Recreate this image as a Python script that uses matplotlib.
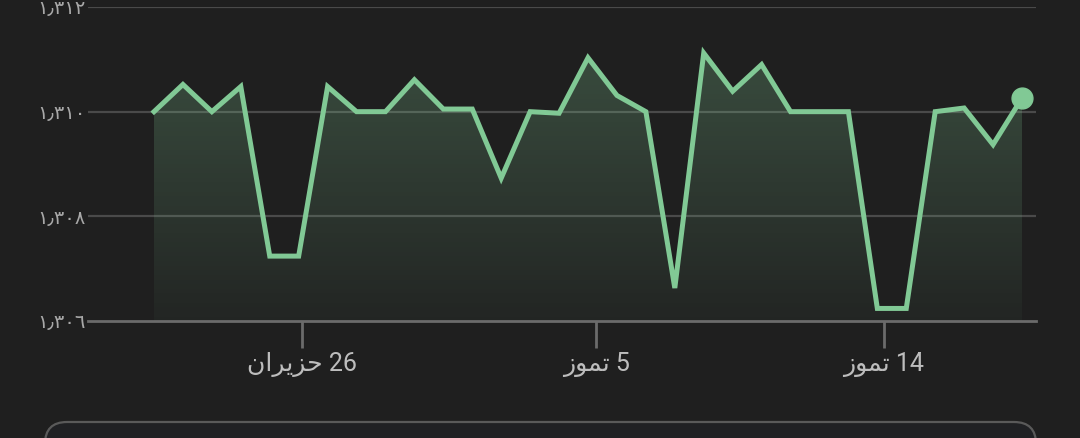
import matplotlib
matplotlib.use("Agg")
import matplotlib.pyplot as plt
import numpy as np
from matplotlib.patches import FancyBboxPatch, Polygon
from matplotlib.colors import LinearSegmentedColormap

# ---- data ----
values = [1.31000, 1.31052, 1.31000, 1.31048, 1.30724, 1.30724, 1.31048, 1.31000,
          1.31000, 1.31061, 1.31005, 1.31005, 1.30873, 1.31000, 1.30997, 1.31103,
          1.31031, 1.31000, 1.30663, 1.31112, 1.31039, 1.31090, 1.31000, 1.31000,
          1.31000, 1.30624, 1.30624, 1.31000, 1.31007, 1.30937, 1.31026]
x_tick_pos = [5.12, 15.28, 25.23]
# visual-order (pre-shaped) Arabic labels: "26 حزيران", "5 تموز", "14 تموز"
x_tick_labels = ["\uFEE5\uFE8D\uFEAE\uFEF3\uFEB0\uFEA3 26",
                 "\uFEAF\uFEEE\uFEE4\uFE97 5",
                 "\uFEAF\uFEEE\uFEE4\uFE97 14"]
y_ticks = [1.306, 1.308, 1.310, 1.312]
y_tick_labels = ["\u0661\u066B\u0663\u0660\u0666", "\u0661\u066B\u0663\u0660\u0668",
                 "\u0661\u066B\u0663\u0661\u0660", "\u0661\u066B\u0663\u0661\u0662"]

BG = "#1f1f1f"
GREEN = "#81c995"
GRID = "#4a4a4a"
BASE = "#6b6b6b"
TXT = "#bdbdbd"

W, H = 1080, 438
fig = plt.figure(figsize=(W / 100, H / 100), dpi=100, facecolor=BG)

# overlay for the card at the bottom (pixel coordinates)
ov = fig.add_axes([0, 0, 1, 1], zorder=0)
ov.set_xlim(0, W)
ov.set_ylim(H, 0)
ov.axis("off")
ov.add_patch(FancyBboxPatch((45, 422), 1036 - 45, 80,
                            boxstyle="round,pad=0,rounding_size=22",
                            facecolor="#202124", edgecolor="#5a5a5a", lw=1.6))

ax = fig.add_axes([88 / W, (H - 321) / H, (1036 - 88) / W, (321 - 7) / H], zorder=1)
ax.set_facecolor("none")

x = np.arange(len(values))
ymin, ymax = 1.306, 1.312
ax.set_ylim(ymin, ymax)
step = (1022 - 154) / (len(values) - 1)
ax.set_xlim(-(154 - 88) / step, (len(values) - 1) + (1036 - 1022) / step)

# gridlines
for yv in y_ticks[1:]:
    ax.axhline(yv, color=GRID, lw=1.6, zorder=1)
ax.axhline(ymin, color=BASE, lw=2, zorder=4, clip_on=False)

# gradient fill under the line
grad = np.linspace(0, 1, 256).reshape(-1, 1)
cmap = LinearSegmentedColormap.from_list("g", [(0.506, 0.788, 0.584, 0.04),
                                                 (0.506, 0.788, 0.584, 0.27)])
im = ax.imshow(grad, extent=[x[0], x[-1], ymin, 1.3112], origin="lower",
               cmap=cmap, aspect="auto", zorder=2)
verts = [(x[0], ymin)] + list(zip(x, values)) + [(x[-1], ymin)]
poly = Polygon(verts, closed=True, facecolor="none", edgecolor="none")
ax.add_patch(poly)
im.set_clip_path(poly)

ax.plot(x, values, color=GREEN, lw=3.6, zorder=5, solid_joinstyle="miter",
        clip_on=False)
ax.plot([x[-1]], [values[-1]], "o", color=GREEN, ms=15, zorder=6, clip_on=False)

for s in ax.spines.values():
    s.set_visible(False)
ax.set_yticks(y_ticks)
ax.set_yticklabels(y_tick_labels, family=["DejaVu Sans"], fontsize=14, color="#a8a8a8")
ax.tick_params(axis="y", length=0, pad=2)
ax.set_xticks(x_tick_pos)
ax.set_xticklabels(x_tick_labels, family=["Roboto", "DejaVu Sans"], fontsize=18,
                   color=TXT)
ax.tick_params(axis="x", length=19.5, width=2, color=BASE, pad=3, direction="out")

fig.savefig("out.png", dpi=100, facecolor=BG)
